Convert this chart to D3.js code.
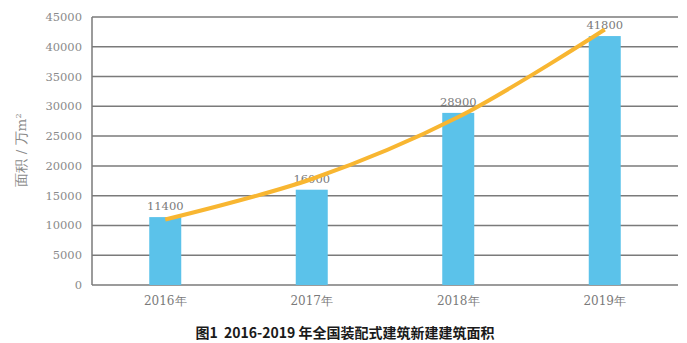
<!DOCTYPE html>
<html><head><meta charset="utf-8">
<script src="https://cdn.jsdelivr.net/npm/d3@7"></script>
<style>body{margin:0;background:#fff}
.s{font-family:"DejaVu Serif","Liberation Serif",serif}
</style>
</head><body>
<svg id="c" width="687" height="343"></svg>
<script>
const categories = ["2016年","2017年","2018年","2019年"];
const values = [11400, 16000, 28900, 41800];
const trendValues = [11000, 17800, 28200, 42900];
const yTicks = [0,5000,10000,15000,20000,25000,30000,35000,40000,45000];

const svg = d3.select("#c");
const m = {l:92, r:678, t:17, b:285};
const x = d3.scaleBand().domain(categories).range([m.l, m.r]).padding(0);
const y = d3.scaleLinear().domain([0,45000]).range([m.b, m.t]);
const barW = 32;

svg.append("g").selectAll("line").data(yTicks).join("line")
  .attr("x1", m.l).attr("x2", m.r)
  .attr("y1", d=>y(d)).attr("y2", d=>y(d))
  .attr("stroke", "#7a7a7a").attr("stroke-width", 1.5);
svg.append("line").attr("x1", m.l).attr("x2", m.l).attr("y1", y(45000)).attr("y2", y(0))
  .attr("stroke", "#7a7a7a").attr("stroke-width", 1.5);

svg.append("g").selectAll("text").data(yTicks).join("text")
  .attr("class","s")
  .attr("x", 82).attr("y", d=>y(d)+4)
  .attr("text-anchor","end").attr("font-size", 11.5)
  .attr("fill","#8a8a8a").text(d=>d);

svg.append("text").attr("class","s").attr("transform","translate(26,150) rotate(-90)")
  .attr("text-anchor","middle").attr("font-size", 13.5)
  .attr("fill","#8a8a8a")
  .html('面积 / 万m<tspan dy="-5" font-size="8">2</tspan>');

svg.append("g").selectAll("rect").data(values).join("rect")
  .attr("x", (d,i)=>x(categories[i]) + x.bandwidth()/2 - barW/2)
  .attr("width", barW)
  .attr("y", d=>y(d)).attr("height", d=>y(0)-y(d))
  .attr("fill", "#5bc2ea");

svg.append("g").selectAll("text").data(values).join("text")
  .attr("class","s")
  .attr("x", (d,i)=>x(categories[i]) + x.bandwidth()/2)
  .attr("y", d=>y(d)-7)
  .attr("text-anchor","middle").attr("font-size", 11.5)
  .attr("fill","#7a7a7a").text(d=>d);

svg.append("g").selectAll("text").data(categories).join("text")
  .attr("class","s")
  .attr("x", d=>x(d)+x.bandwidth()/2).attr("y", 305)
  .attr("text-anchor","middle").attr("font-size", 12)
  .attr("fill","#7a7a7a").text(d=>d);

const line = d3.line()
  .x((d,i)=>x(categories[i]) + x.bandwidth()/2)
  .y(d=>y(d)).curve(d3.curveCatmullRom.alpha(0.5));
svg.append("path").datum(trendValues).attr("d", line)
  .attr("fill","none").attr("stroke","#f8b631").attr("stroke-width",4).attr("stroke-linecap","butt");

svg.append("text").attr("x", 345).attr("y", 338).attr("text-anchor","middle")
  .attr("font-family","'Noto Sans CJK SC','Noto Sans',sans-serif").attr("font-weight","bold")
  .attr("font-size", 14).attr("fill","#1a1a1a")
  .text("图1\u00a0\u00a02016-2019 年全国装配式建筑新建建筑面积");
</script>
</body></html>
